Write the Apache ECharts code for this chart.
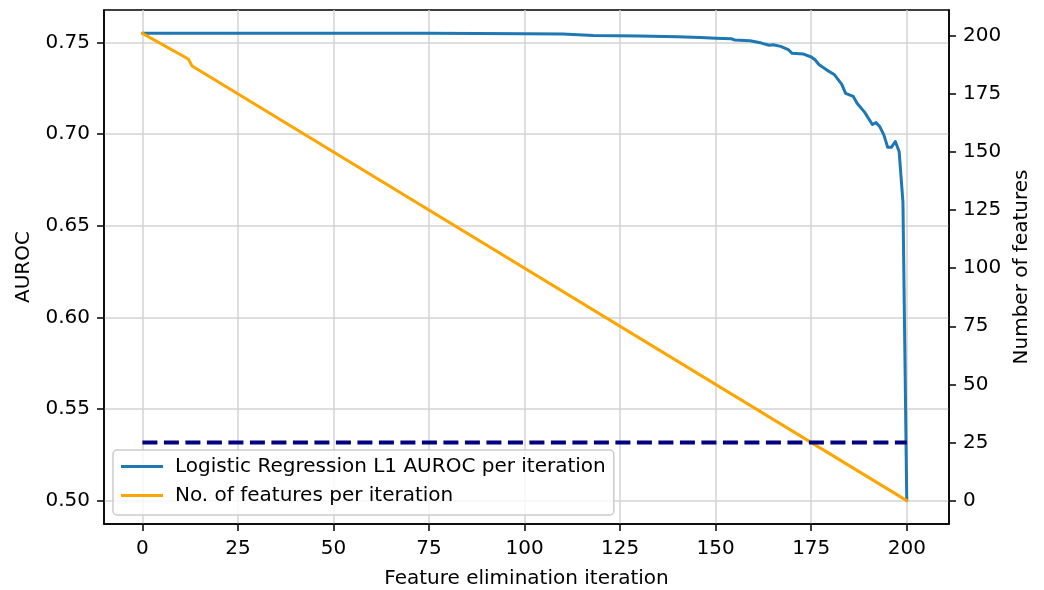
<!DOCTYPE html>
<html>
<head>
<meta charset="utf-8">
<script src="https://cdn.jsdelivr.net/npm/echarts@6/dist/echarts.min.js"></script>
<style>
  html, body { margin: 0; padding: 0; background: #fff; }
  #chart { width: 1044px; height: 590px; }
</style>
</head>
<body>
<div id="chart"></div>
<script>
// tick labels
const xTicks = [0, 25, 50, 75, 100, 125, 150, 175, 200];
const aurocTicks = [0.50, 0.55, 0.60, 0.65, 0.70, 0.75];
const featureTicks = [0, 25, 50, 75, 100, 125, 150, 175, 200];

// [iteration, AUROC]
const aurocPoints = [
  [0, 0.7549], [25, 0.7549], [50, 0.7549], [75, 0.7549], [100, 0.7547],
  [110, 0.7545], [118, 0.7538], [130, 0.7535], [140, 0.7531], [146, 0.7527],
  [150, 0.7523], [154, 0.7520], [155, 0.7513], [159, 0.7509], [162, 0.7496],
  [164, 0.7484], [165, 0.7487], [167, 0.7478], [169, 0.7460], [170, 0.7440],
  [173, 0.7436], [175, 0.7420], [176, 0.7405], [177, 0.7379], [179, 0.7350],
  [181, 0.7325], [182, 0.7298], [183, 0.7271], [184, 0.7222], [186, 0.7205],
  [187, 0.7168], [189, 0.7118], [190, 0.7085], [191, 0.7052], [192, 0.7062],
  [193, 0.7038], [194, 0.6995], [195, 0.6928], [196, 0.6928], [197, 0.6959],
  [198, 0.6905], [199, 0.6628], [200, 0.5000]
];

// [iteration, number of features]
const featurePoints = [[0, 201], [12, 190], [13, 187], [200, 0]];

// reference line (dashed), on the feature axis
const refLine = [[0, 25], [200, 25]];

const chart = echarts.init(document.getElementById('chart'));
const font = 'DejaVu Sans';
const fs = 20;

const axisLine = { show: true, onZero: false, lineStyle: { color: '#000', width: 1.5 } };
const tickStyle = { color: '#000', width: 1.5 };

const option = {
  animation: false,
  backgroundColor: '#fff',
  textStyle: { fontFamily: font, color: '#000' },
  grid: {
    left: 104, right: 95, top: 10, bottom: 66,
    outerBoundsMode: 'none',
    containLabel: false,
    show: true, borderColor: '#000', borderWidth: 1.5, backgroundColor: 'transparent'
  },
  legend: {
    data: ['Logistic Regression L1 AUROC per iteration', 'No. of features per iteration'],
    orient: 'vertical',
    left: 113,
    top: 450,
    icon: 'rect',
    itemWidth: 42,
    itemHeight: 3,
    itemGap: 6,
    padding: [5, 8, 8, 8],
    backgroundColor: 'rgba(255,255,255,0.8)',
    borderColor: '#cccccc',
    borderWidth: 1.5,
    borderRadius: 4,
    textStyle: { fontFamily: font, fontSize: fs, color: '#000', lineHeight: 23, padding: [0, 0, 0, 7] }
  },
  xAxis: {
    type: 'value',
    min: -10.05,
    max: 211.05,
    name: 'Feature elimination iteration',
    nameLocation: 'middle',
    nameGap: 45,
    nameTextStyle: { fontFamily: font, fontSize: fs, color: '#000' },
    axisLine: axisLine,
    axisTick: { show: true, customValues: xTicks, length: 7, lineStyle: tickStyle },
    axisLabel: { customValues: xTicks, margin: 15, fontFamily: font, fontSize: fs, color: '#000' },
    splitLine: { show: true, lineStyle: { color: '#d3d3d3', width: 1.5 } }
  },
  yAxis: [
    {
      type: 'value',
      position: 'left',
      min: 0.48725,
      max: 0.76765,
      name: 'AUROC',
      nameLocation: 'middle',
      nameGap: 70,
      nameTextStyle: { fontFamily: font, fontSize: fs, color: '#000' },
      axisLine: axisLine,
      axisTick: { show: true, customValues: aurocTicks, length: 7, lineStyle: tickStyle },
      axisLabel: {
        customValues: aurocTicks, margin: 14, fontFamily: font, fontSize: fs, color: '#000',
        formatter: v => v.toFixed(2)
      },
      splitLine: { show: true, lineStyle: { color: '#d3d3d3', width: 1.5 } }
    },
    {
      type: 'value',
      position: 'right',
      min: -10.05,
      max: 211.05,
      name: 'Number of features',
      nameLocation: 'middle',
      nameGap: 60,
      nameRotate: 90,
      nameTextStyle: { fontFamily: font, fontSize: fs, color: '#000' },
      axisLine: axisLine,
      axisTick: { show: true, customValues: featureTicks, length: 7, lineStyle: tickStyle },
      axisLabel: { customValues: featureTicks, margin: 14, fontFamily: font, fontSize: fs, color: '#000' },
      splitLine: { show: false }
    }
  ],
  series: [
    {
      name: 'Logistic Regression L1 AUROC per iteration',
      type: 'line',
      yAxisIndex: 0,
      data: aurocPoints,
      showSymbol: false,
      symbol: 'none',
      color: '#1f77b4',
      lineStyle: { width: 3, color: '#1f77b4', cap: 'round', join: 'round' },
      z: 2
    },
    {
      name: 'No. of features per iteration',
      type: 'line',
      yAxisIndex: 1,
      data: featurePoints,
      showSymbol: false,
      symbol: 'none',
      color: '#ffa500',
      lineStyle: { width: 3, color: '#ffa500', cap: 'round', join: 'round' },
      z: 3
    },
    {
      name: 'reference',
      type: 'line',
      yAxisIndex: 1,
      data: refLine,
      showSymbol: false,
      symbol: 'none',
      color: '#000080',
      lineStyle: { width: 4, color: '#000080', type: [15, 6.5] },
      z: 4
    }
  ]
};

chart.setOption(option);
</script>
</body>
</html>
